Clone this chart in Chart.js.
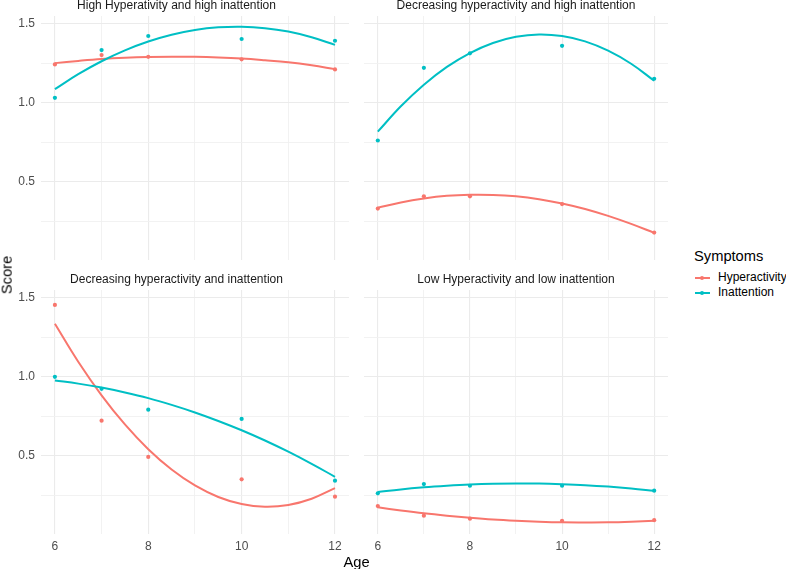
<!DOCTYPE html>
<html><head><meta charset="utf-8">
<script src="https://cdn.jsdelivr.net/npm/chart.js@4.4.1/dist/chart.umd.min.js"></script>
<style>
html,body{margin:0;padding:0;background:#fff;width:786px;height:569px;overflow:hidden;font-family:"Liberation Sans",Arial,sans-serif;}
.wrap{position:absolute;}
.wrap canvas{display:block;}
.axtitle{position:absolute;font-size:14.7px;color:#000;white-space:nowrap;line-height:1;font-weight:normal;}
#legend{position:absolute;left:694px;top:247px;}
#legend .ttl{font-size:14.7px;color:#000;line-height:18px;height:18px;margin-bottom:5px;}
#legend .item{position:relative;height:15.2px;line-height:15.2px;font-size:12px;color:#000;padding-left:24px;}
#legend .key{position:absolute;left:1px;top:6.6px;width:15px;height:2px;}
#legend .dot{position:absolute;left:6px;top:5.6px;width:4px;height:4px;border-radius:50%;}
</style></head><body>
<div class="wrap" style="left:0;top:-2px;"><canvas id="c0" width="353" height="278"></canvas></div>
<div class="wrap" style="left:360px;top:-2px;"><canvas id="c1" width="312" height="278"></canvas></div>
<div class="wrap" style="left:0;top:272px;"><canvas id="c2" width="353" height="282"></canvas></div>
<div class="wrap" style="left:360px;top:272px;"><canvas id="c3" width="312" height="282"></canvas></div>
<div class="axtitle" id="ytitle" style="left:7px;top:275px;transform:translate(-50%,-50%) rotate(-90deg);">Score</div>
<div class="axtitle" id="xtitle" style="left:356.5px;top:561.5px;transform:translate(-50%,-50%);">Age</div>
<div id="legend"></div>
<script>
// ---- data ----
const ages = [6, 7, 8, 10, 12];
const fitAges = [6, 6.5, 7, 7.5, 8, 8.5, 9, 9.5, 10, 10.5, 11, 11.5, 12];
const panelTitles = [
  "High Hyperativity and high inattention",
  "Decreasing hyperactivity and high inattention",
  "Decreasing hyperactivity and inattention",
  "Low Hyperactivity and low inattention"
];
const seriesNames = ["Hyperactivity", "Inattention"];
const xTickValues = [6, 7, 8, 9, 10, 11, 12];
const xTickLabels = [6, 8, 10, 12];
const yTickValues = [0.25, 0.5, 0.75, 1.0, 1.25, 1.5];
const yTickLabels = [0.5, 1.0, 1.5];

const hyperHigh = [1.244, 1.303, 1.292, 1.276, 1.212];
const inattHigh = [1.032, 1.335, 1.424, 1.405, 1.394];
const hyperHighFit = [1.252, 1.266, 1.278, 1.286, 1.291, 1.293, 1.292, 1.288, 1.281, 1.270, 1.257, 1.238, 1.214];
const inattHighFit = [1.087, 1.182, 1.264, 1.333, 1.389, 1.432, 1.462, 1.479, 1.483, 1.474, 1.452, 1.416, 1.368];

const hyperDecHigh = [0.329, 0.407, 0.407, 0.358, 0.177];
const inattDecHigh = [0.761, 1.222, 1.314, 1.362, 1.153];
const hyperDecHighFit = [0.335, 0.368, 0.393, 0.410, 0.417, 0.416, 0.407, 0.389, 0.362, 0.327, 0.283, 0.232, 0.175];
const inattDecHighFit = [0.817, 0.978, 1.115, 1.228, 1.316, 1.380, 1.419, 1.434, 1.424, 1.390, 1.331, 1.248, 1.140];

const hyperDec = [1.456, 0.722, 0.492, 0.350, 0.240];
const inattDec = [1.000, 0.924, 0.792, 0.733, 0.341];
const hyperDecFit = [1.337, 1.096, 0.883, 0.698, 0.541, 0.412, 0.311, 0.238, 0.193, 0.176, 0.187, 0.227, 0.294];
const inattDecFit = [0.977, 0.957, 0.932, 0.901, 0.865, 0.822, 0.774, 0.720, 0.661, 0.596, 0.525, 0.448, 0.366];

const hyperLow = [0.180, 0.119, 0.100, 0.087, 0.091];
const inattLow = [0.261, 0.320, 0.309, 0.309, 0.278];
const hyperLowFit = [0.172, 0.152, 0.134, 0.119, 0.106, 0.095, 0.087, 0.081, 0.077, 0.076, 0.077, 0.081, 0.087];
const inattLowFit = [0.269, 0.286, 0.299, 0.309, 0.317, 0.322, 0.324, 0.323, 0.319, 0.313, 0.304, 0.292, 0.277];

// ---- styling ----
const COL_H = "#F8766D", COL_I = "#00BFC4";
const FONT = "'Liberation Sans', Arial, sans-serif";
const MAJOR = "#EBEBEB", MINOR = "#F1F1F1";

function pts(xs, ys) { return xs.map((x, i) => ({ x: x, y: ys[i] })); }

function makeChart(id, title, hP, iP, hF, iF, showX, showY) {
  const ctx = document.getElementById(id);
  return new Chart(ctx, {
    type: "scatter",
    data: {
      datasets: [
        { label: seriesNames[1], data: pts(fitAges, iF), showLine: true, borderColor: COL_I, borderWidth: 2, pointRadius: 0, tension: 0.4, order: 0 },
        { label: seriesNames[0], data: pts(fitAges, hF), showLine: true, borderColor: COL_H, borderWidth: 2, pointRadius: 0, tension: 0.4, order: 1 },
        { label: seriesNames[1], data: pts(ages, iP), showLine: false, pointRadius: 2.1, pointBackgroundColor: COL_I, pointBorderWidth: 0, order: 2 },
        { label: seriesNames[0], data: pts(ages, hP), showLine: false, pointRadius: 2.1, pointBackgroundColor: COL_H, pointBorderWidth: 0, order: 3 }
      ]
    },
    options: {
      responsive: false,
      animation: false,
      layout: { padding: 0 },
      plugins: {
        legend: { display: false },
        tooltip: { enabled: false },
        title: { display: true, text: title, color: "#1A1A1A", font: { family: FONT, size: 12, weight: "normal" }, padding: { top: 0, bottom: 3.6 } }
      },
      scales: {
        x: {
          type: "linear", min: 5.7, max: 12.3,
          afterBuildTicks: s => { s.ticks = xTickValues.map(v => ({ value: v })); },
          afterFit: s => { s.height = showX ? 20 : 16; },
          ticks: { display: showX, autoSkip: false, maxRotation: 0, padding: 5, color: "#4D4D4D", font: { family: FONT, size: 12 },
            callback: v => xTickLabels.includes(v) ? String(v) : "" },
          grid: { drawTicks: false, color: c => (c.tick && xTickLabels.includes(c.tick.value)) ? MAJOR : MINOR, lineWidth: c => (c.tick && xTickLabels.includes(c.tick.value)) ? 1.1 : 0.9 },
          border: { display: false }
        },
        y: {
          type: "linear", min: 0.003, max: 1.551,
          afterBuildTicks: s => { s.ticks = yTickValues.map(v => ({ value: v })); },
          afterFit: s => { s.width = showY ? 40.9 : 0; },
          ticks: { display: showY, autoSkip: false, padding: 6, color: "#4D4D4D", font: { family: FONT, size: 12 },
            callback: v => yTickLabels.includes(v) ? v.toFixed(1) : "" },
          grid: { drawTicks: false, color: c => (c.tick && yTickLabels.includes(c.tick.value)) ? MAJOR : MINOR, lineWidth: c => (c.tick && yTickLabels.includes(c.tick.value)) ? 1.1 : 0.9 },
          border: { display: false }
        }
      }
    }
  });
}

makeChart("c0", panelTitles[0], hyperHigh, inattHigh, hyperHighFit, inattHighFit, false, true);
makeChart("c1", panelTitles[1], hyperDecHigh, inattDecHigh, hyperDecHighFit, inattDecHighFit, false, false);
makeChart("c2", panelTitles[2], hyperDec, inattDec, hyperDecFit, inattDecFit, true, true);
makeChart("c3", panelTitles[3], hyperLow, inattLow, hyperLowFit, inattLowFit, true, false);

// legend
const lg = document.getElementById("legend");
let html = '<div class="ttl">Symptoms</div>';
[COL_H, COL_I].forEach((c, i) => {
  html += '<div class="item"><span class="key" style="background:' + c + '"></span><span class="dot" style="background:' + c + '"></span>' + seriesNames[i] + '</div>';
});
lg.innerHTML = html;
</script>
</body></html>
